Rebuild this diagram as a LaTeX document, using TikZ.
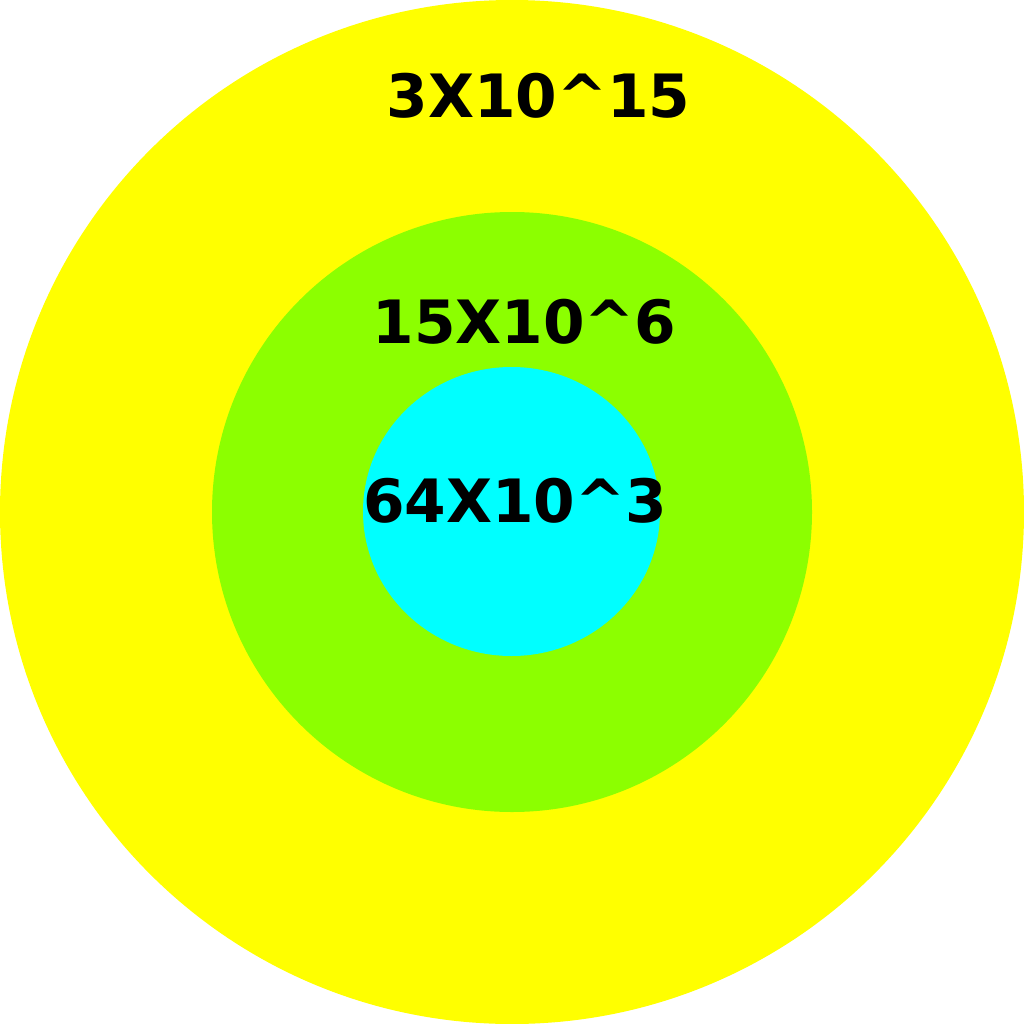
\documentclass[tikz,border=0pt]{standalone}
\usepackage{fontspec}
\setsansfont{DejaVu Sans}
\usepackage{xcolor}
\definecolor{ringyellow}{HTML}{FFFF00}
\definecolor{ringgreen}{HTML}{8CFF00}
\definecolor{corecyan}{HTML}{00FFFF}

\begin{document}
\begin{tikzpicture}[x=0.02cm, y=-0.02cm,
    val/.style={anchor=base, inner sep=0pt, font=\sffamily\bfseries\fontsize{34}{40}\selectfont}]
  \useasboundingbox (0,0) rectangle (1024,1024);

  % rings
  \fill[ringyellow] (512,512) circle [radius=512];
  \fill[ringgreen] (512,512) circle [radius=300];
  \fill[corecyan] (511.5,511.5) ellipse [x radius=148.5, y radius=144.5];

  % values
  \node[val] (outer) at (538.5,117) {3X10\textasciicircum15};
  \node[val] (middle) at (524.5,343) {15X10\textasciicircum6};
  \node[val] (inner) at (515,522) {64X10\textasciicircum3};
\end{tikzpicture}
\end{document}
